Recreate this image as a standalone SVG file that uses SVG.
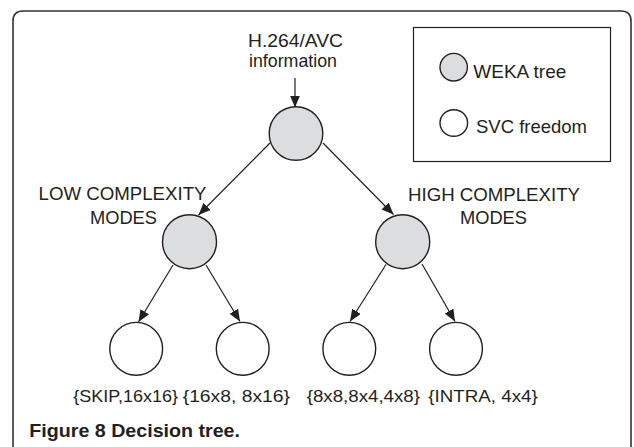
<svg xmlns="http://www.w3.org/2000/svg" width="634" height="447" viewBox="0 0 634 447">
<defs>
<marker id="ah" markerUnits="userSpaceOnUse" markerWidth="13" markerHeight="11" refX="12" refY="5" orient="auto">
<path d="M0,0 L12,5 L0,10 z" fill="#231f20"/>
</marker>
<style>
.t{font-family:"Liberation Sans",Arial,sans-serif;font-size:19px;fill:#231f20}
.s{font-size:17px}
.h{font-size:17.5px}
.cap{font-family:"Liberation Sans",Arial,sans-serif;font-size:18px;font-weight:bold;fill:#231f20}
.w{fill:#dcdddf;stroke:#231f20;stroke-width:1.4}
.f{fill:#ffffff;stroke:#231f20;stroke-width:1.4}
.c{stroke:#231f20;stroke-width:1.2;fill:none;marker-end:url(#ah)}
</style>
</defs>
<rect width="634" height="447" fill="#ffffff"/>
<path d="M13,447 L13,21 Q13,11 23,11 L621,11 Q631,11 631,21 L631,447" fill="none" stroke="#333" stroke-width="1.6"/>
<g id="legend">
<rect x="413.5" y="27.5" width="197" height="134" fill="none" stroke="#231f20" stroke-width="1.2"/>
<ellipse cx="453.7" cy="67.2" rx="13.7" ry="13.8" class="w"/>
<text class="t" x="473.3" y="78.3" textLength="93" lengthAdjust="spacingAndGlyphs">WEKA tree</text>
<ellipse cx="453.8" cy="123" rx="13.8" ry="13.3" class="f"/>
<text class="t" x="476" y="133.3" textLength="111" lengthAdjust="spacingAndGlyphs">SVC freedom</text>
</g>
<g id="input">
<text class="t h" x="248" y="47.3" textLength="95" lengthAdjust="spacingAndGlyphs">H.264/AVC</text>
<text class="t h" x="249" y="67" textLength="88" lengthAdjust="spacingAndGlyphs">information</text>
</g>
<g id="connectors">
<line class="c" x1="295" y1="78" x2="295" y2="107.5"/>
<line class="c" x1="270" y1="143" x2="198.5" y2="215"/>
<line class="c" x1="323" y1="143" x2="393.5" y2="214.5"/>
<line class="c" x1="173" y1="265" x2="138.5" y2="322"/>
<line class="c" x1="206" y1="265" x2="240" y2="321.5"/>
<line class="c" x1="386" y1="264.5" x2="350" y2="321.5"/>
<line class="c" x1="422" y1="264" x2="455" y2="321.5"/>
</g>
<g id="root">
<circle cx="296" cy="133.5" r="26.8" class="w"/>
</g>
<g id="low">
<circle cx="189.5" cy="241.7" r="27" class="w"/>
<text class="t" x="38.5" y="200" textLength="168" lengthAdjust="spacingAndGlyphs">LOW COMPLEXITY</text>
<text class="t" x="90" y="223.5" textLength="67" lengthAdjust="spacingAndGlyphs">MODES</text>
</g>
<g id="high">
<circle cx="402.7" cy="241.7" r="27" class="w"/>
<text class="t" x="408" y="200.5" textLength="172" lengthAdjust="spacingAndGlyphs">HIGH COMPLEXITY</text>
<text class="t" x="460" y="224" textLength="67" lengthAdjust="spacingAndGlyphs">MODES</text>
</g>
<g id="leaf1">
<circle cx="136.2" cy="348.8" r="26.4" class="f"/>
<text class="t s" x="73.3" y="401.7" textLength="104.7" lengthAdjust="spacingAndGlyphs">{SKIP,16x16}</text>
</g>
<g id="leaf2">
<circle cx="242.7" cy="348.8" r="26.4" class="f"/>
<text class="t s" x="182.7" y="401.7" textLength="107.3" lengthAdjust="spacingAndGlyphs">{16x8, 8x16}</text>
</g>
<g id="leaf3">
<circle cx="349.3" cy="348.8" r="26.4" class="f"/>
<text class="t s" x="306.7" y="401.7" textLength="113.3" lengthAdjust="spacingAndGlyphs">{8x8,8x4,4x8}</text>
</g>
<g id="leaf4">
<circle cx="456" cy="348.8" r="26.4" class="f"/>
<text class="t s" x="428.3" y="401.7" textLength="109.4" lengthAdjust="spacingAndGlyphs">{INTRA, 4x4}</text>
</g>
<text class="cap" x="29.3" y="436.7" textLength="210.7" lengthAdjust="spacingAndGlyphs">Figure 8 Decision tree.</text>
</svg>
